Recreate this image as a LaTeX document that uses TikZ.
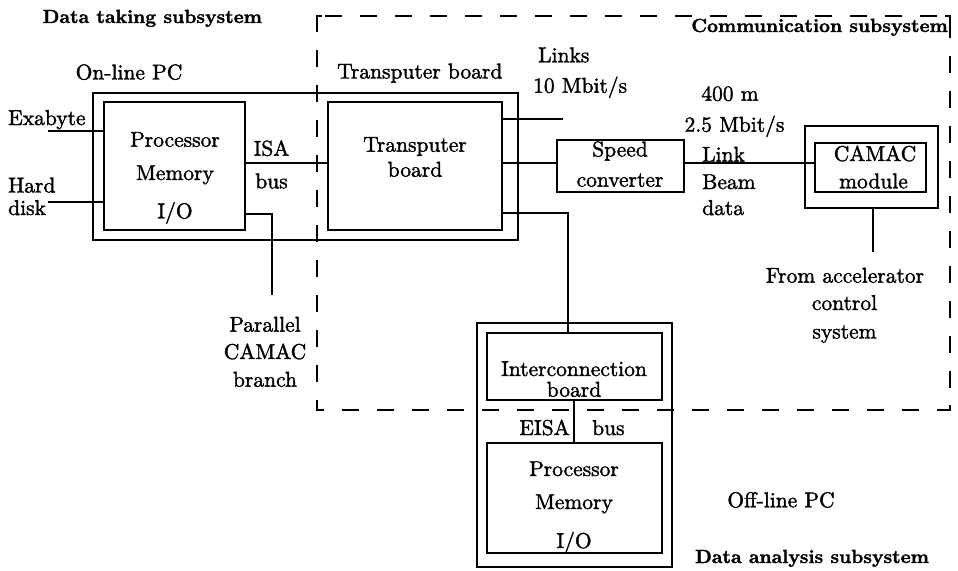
\documentclass[tikz,border=0pt]{standalone}
\usepackage{fontspec}
\setmainfont{lmroman10-regular.otf}[BoldFont=lmroman10-bold.otf, FakeBold=1.6]
\usetikzlibrary{fit}

\begin{document}
\begin{tikzpicture}[x=1pt,y=-1pt,
  wire/.style={line width=1.8pt},
  unit/.style={draw, line width=1.8pt, inner sep=0pt},
  lbl/.style={inner sep=0pt, anchor=base, font=\fontsize{21.5}{24}\selectfont},
  head/.style={inner sep=0pt, anchor=base, font=\fontsize{19}{22}\selectfont\bfseries},
  border/.style={line width=1.8pt, dash pattern=on 17pt off 18pt, dash phase=27pt},
  elbow/.style={line width=1.8pt}]
\useasboundingbox (0,0) rectangle (958,570);

% ---- boxes ----
\node[unit, fit={(93,93) (518,240)}] (onpc) {};
\node[unit, fit={(104,102) (245,230)}] (proc1) {};
\node[unit, fit={(328,102) (502,230)}] (trans) {};
\node[unit, fit={(557,140) (684,192)}] (speed) {};
\node[unit, fit={(805,126) (938,208)}] (camacOut) {};
\node[unit, fit={(815,143) (926,192)}] (camacIn) {};
\node[unit, fit={(477,323) (672,567)}] (offpc) {};
\node[unit, fit={(487,333) (662,400)}] (inter) {};
\node[unit, fit={(487,443) (662,553)}] (proc2) {};

% ---- communication subsystem boundary ----
\coordinate (cTL) at (317,16);
\coordinate (cBR) at (950,410);
\draw[border] (cTL) -- (cTL -| cBR) -- (cBR) -- (cBR -| cTL) -- cycle;
\draw[elbow] ([yshift=-5pt]cTL) -- (cTL) -- ([xshift=5pt]cTL);
\draw[elbow] ([yshift=5pt]cTL |- cBR) -- (cTL |- cBR) -- ([xshift=5pt]cTL |- cBR);
\draw[elbow] ([yshift=5pt]cBR) -- (cBR) -- ([xshift=-5pt]cBR);
\draw[elbow] ([yshift=-5pt]cBR |- cTL) -- (cBR |- cTL) -- ([xshift=-5pt]cBR |- cTL);

% ---- connector ends and rows ----
\coordinate (exaEnd) at (48,131);
\coordinate (diskEnd) at (48,202);
\coordinate (busrow) at (0,163);
\coordinate (iorow) at (0,214);
\coordinate (pcbEnd) at (272,295);
\coordinate (linkEnd) at (563,119);
\coordinate (lowrow) at (0,213);
\coordinate (dropX) at (568,0);
\coordinate (eisaX) at (574,0);
\coordinate (accEnd) at (873,252);

% ---- connectors ----
\draw[wire] (exaEnd) -- (exaEnd -| proc1.west);
\draw[wire] (diskEnd) -- (diskEnd -| proc1.west);
\draw[wire] (proc1.east |- busrow) -- (trans.west |- busrow);
\draw[wire] (proc1.east |- iorow) -- (pcbEnd |- iorow) -- (pcbEnd);
\draw[wire] (trans.east |- linkEnd) -- (linkEnd);
\draw[wire] (trans.east |- busrow) -- (speed.west |- busrow);
\draw[wire] (speed.east |- busrow) -- (camacIn.west |- busrow);
\draw[wire] (trans.east |- lowrow) -| (dropX |- inter.north);
\draw[wire] (eisaX |- inter.south) -- (eisaX |- proc2.north);
\draw[wire] (camacOut.south -| accEnd) -- (accEnd);

% ---- headings ----
\node[head, anchor=base west] (hTake) at (42.5,23) {Data taking subsystem};
\node[head, anchor=base east] (hComm) at (948,32) {Communication subsystem};
\node[head] (hAna) at (812,563) {Data analysis subsystem};

% ---- labels ----
\node[lbl] (tOnpc) at (129,79.5) {On-line PC};
\node[lbl, anchor=base west] (tTransTop) at (337,78.5) {Transputer board};
\node[lbl, anchor=base west] (tExa) at (8,125) {Exabyte};
\node[lbl, anchor=base west] (tHard) at (8,192.5) {Hard};
\node[lbl, anchor=base west] (tDisk) at (8,215) {disk};
\node[lbl] (tProc1) at (175,146.7) {Processor};
\node[lbl] (tMem1) at (175,180) {Memory};
\node[lbl] (tIO1) at (175,218.3) {I/O};
\node[lbl] (tIsa) at (271.5,155.7) {ISA};
\node[lbl] (tIsaBus) at (271.5,188.3) {bus};
\node[lbl] (tPar) at (265,331.7) {Parallel};
\node[lbl] (tCamacBr) at (265,359) {CAMAC};
\node[lbl] (tBranch) at (265,386.7) {branch};
\node[lbl] (tTrans) at (415,151.7) {Transputer};
\node[lbl] (tBoard) at (415,176.7) {board};
\node[lbl, anchor=base west] (tLinks) at (538,62.3) {Links};
\node[lbl, anchor=base west] (tRate1) at (533,92.7) {10 Mbit/s};
\node[lbl] (tSpeed) at (620,156.5) {Speed};
\node[lbl] (tConv) at (620,186.7) {converter};
\node[lbl] (tDist) at (730,100.7) {400 m};
\node[lbl] (tRate2) at (734.5,131.7) {2.5 Mbit/s};
\node[lbl, anchor=base west] (tLink) at (702,161.7) {Link};
\node[lbl, anchor=base west] (tBeam) at (702,189) {Beam};
\node[lbl, anchor=base west] (tData) at (702,215) {data};
\node[lbl] (tCamac) at (875,161) {CAMAC};
\node[lbl] (tModule) at (873.5,188.3) {module};
\node[lbl] (tFrom) at (845,282.7) {From accelerator};
\node[lbl] (tControl) at (844.5,310) {control};
\node[lbl] (tSystem) at (844.5,338.5) {system};
\node[lbl] (tInter) at (574,376) {Interconnection};
\node[lbl] (tIBoard) at (574,396.7) {board};
\node[lbl, anchor=base east] (tEisa) at (570,435) {EISA};
\node[lbl, anchor=base west] (tEisaBus) at (592,435) {bus};
\node[lbl] (tProc2) at (574,476) {Processor};
\node[lbl] (tMem2) at (574,509) {Memory};
\node[lbl] (tIO2) at (574,548) {I/O};
\node[lbl] (tOffpc) at (781,507.3) {Off-line PC};
\end{tikzpicture}
\end{document}
